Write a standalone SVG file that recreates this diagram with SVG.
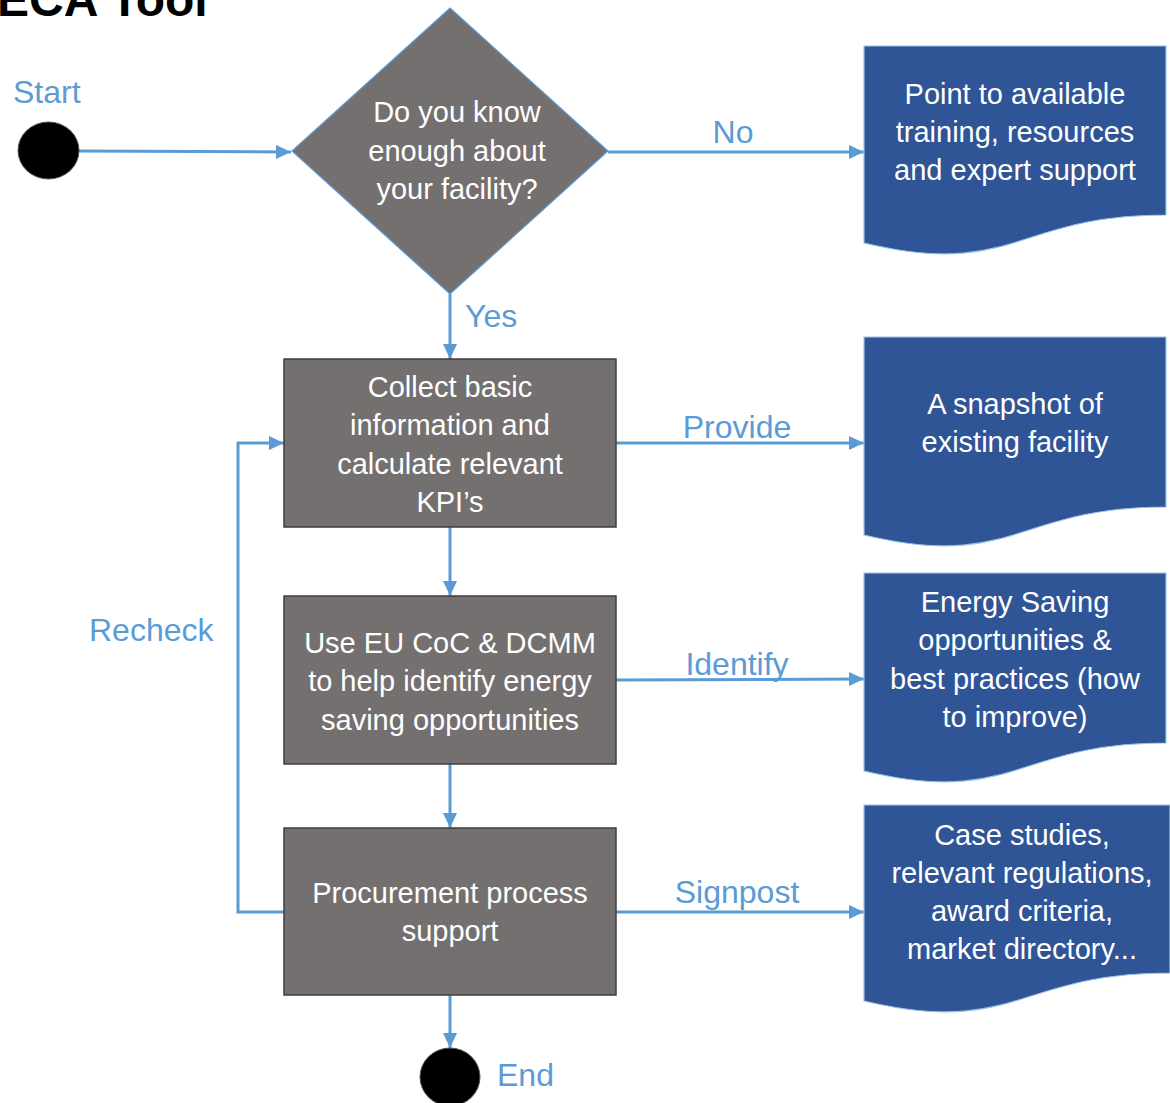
<svg xmlns="http://www.w3.org/2000/svg" width="1170" height="1103" viewBox="0 0 1170 1103">
<style>
.title{font-family:"Liberation Sans",Arial,sans-serif;font-weight:bold;font-size:48px;fill:#000}
.lbl{font-family:"Liberation Sans",Arial,sans-serif;font-size:32px;fill:#5B9BD5}
.nt{font-family:"Liberation Sans",Arial,sans-serif;font-size:29px;fill:#fff;text-anchor:middle}
.proc{fill:#757070;stroke:#3F3F3F;stroke-width:1.5}
.dec{fill:#757070;stroke:#5B9BD5;stroke-width:1.2}
.doc{fill:#2F5597;stroke:#9DC3E6;stroke-width:1.2}
.term{fill:#000;stroke:#555;stroke-width:1}
.conn{fill:none;stroke:#5B9BD5;stroke-width:3;marker-end:url(#arr)}
</style>
<defs>
<marker id="arr" markerUnits="userSpaceOnUse" markerWidth="16" markerHeight="14" refX="15" refY="7" orient="auto">
<path d="M0,0 L15,7 L0,14 Z" fill="#5B9BD5"/>
</marker>
</defs>
<rect width="1170" height="1103" fill="#fff"/>
<text class="title" x="-3" y="16">ECA Tool</text>

<g id="connectors">
<path class="conn" d="M79,151 L291,152"/>
<path class="conn" d="M608,152 L864,152"/>
<path class="conn" d="M450,294 L450,359"/>
<path class="conn" d="M616,443 L864,443"/>
<path class="conn" d="M450,527 L450,596"/>
<path class="conn" d="M616,680 L864,679"/>
<path class="conn" d="M450,764 L450,828"/>
<path class="conn" d="M616,912 L864,912"/>
<path class="conn" d="M450,995 L450,1048"/>
<path class="conn" d="M286,912 L238,912 L238,443 L284,443"/>
<text class="lbl" x="13" y="103">Start</text>
<text class="lbl" x="733" y="143" text-anchor="middle">No</text>
<text class="lbl" x="465" y="327">Yes</text>
<text class="lbl" x="737" y="438" text-anchor="middle">Provide</text>
<text class="lbl" x="737" y="675" text-anchor="middle">Identify</text>
<text class="lbl" x="737" y="903" text-anchor="middle">Signpost</text>
<text class="lbl" x="89" y="641">Recheck</text>
<text class="lbl" x="497" y="1086">End</text>
</g>

<g id="start">
<ellipse class="term" cx="48.5" cy="150.5" rx="30.5" ry="28.5"/>
</g>

<g id="decision">
<polygon class="dec" points="450,8 608,151 450,294 292,151"/>
<text class="nt" x="457" y="122">Do you know</text>
<text class="nt" x="457" y="161">enough about</text>
<text class="nt" x="457" y="199">your facility?</text>
</g>

<g id="doc-training">
<path class="doc" d="M864,46 L1166,46 L1166,215 C1015,215 1015,279 864,243 Z"/>
<text class="nt" x="1015" y="104">Point to available</text>
<text class="nt" x="1015" y="142">training, resources</text>
<text class="nt" x="1015" y="180">and expert support</text>
</g>

<g id="collect">
<rect class="proc" x="284" y="359" width="332" height="168"/>
<text class="nt" x="450" y="397">Collect basic</text>
<text class="nt" x="450" y="435">information and</text>
<text class="nt" x="450" y="474">calculate relevant</text>
<text class="nt" x="450" y="512">KPI’s</text>
</g>

<g id="doc-snapshot">
<path class="doc" d="M864,337 L1166,337 L1166,507 C1015,507 1015,571 864,535 Z"/>
<text class="nt" x="1015" y="414">A snapshot of</text>
<text class="nt" x="1015" y="452">existing facility</text>
</g>

<g id="identify">
<rect class="proc" x="284" y="596" width="332" height="168"/>
<text class="nt" x="450" y="653">Use EU CoC &amp; DCMM</text>
<text class="nt" x="450" y="691">to help identify energy</text>
<text class="nt" x="450" y="730">saving opportunities</text>
</g>

<g id="doc-energy">
<path class="doc" d="M864,573 L1166,573 L1166,743 C1015,743 1015,807 864,771 Z"/>
<text class="nt" x="1015" y="612">Energy Saving</text>
<text class="nt" x="1015" y="650">opportunities &amp;</text>
<text class="nt" x="1015" y="689">best practices (how</text>
<text class="nt" x="1015" y="727">to improve)</text>
</g>

<g id="procurement">
<rect class="proc" x="284" y="828" width="332" height="167"/>
<text class="nt" x="450" y="903">Procurement process</text>
<text class="nt" x="450" y="941">support</text>
</g>

<g id="doc-case">
<path class="doc" d="M864,805 L1170,805 L1170,973 C1017,973 1017,1037 864,1001 Z"/>
<text class="nt" x="1022" y="845">Case studies,</text>
<text class="nt" x="1022" y="883">relevant regulations,</text>
<text class="nt" x="1022" y="921">award criteria,</text>
<text class="nt" x="1022" y="959">market directory...</text>
</g>

<g id="end">
<ellipse class="term" cx="450" cy="1077" rx="30" ry="29"/>
</g>
</svg>
